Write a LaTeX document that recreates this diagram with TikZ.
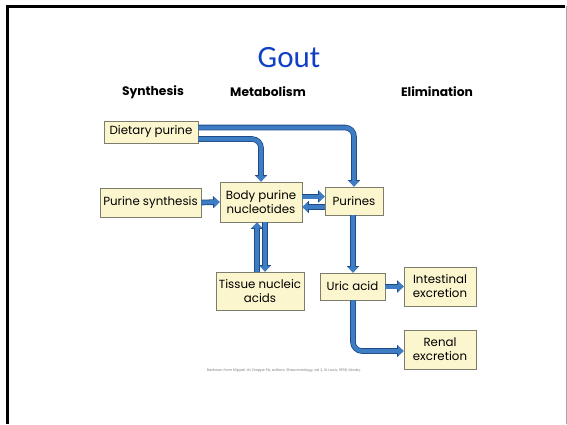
\documentclass[tikz,border=0pt]{standalone}
\usepackage{fontspec}
\setmainfont{Poppins}
\newfontfamily\titlefont{Carlito}
\usetikzlibrary{arrows.meta}

\definecolor{boxfill}{RGB}{252,246,206}
\definecolor{boxline}{RGB}{125,125,110}
\definecolor{flowblue}{RGB}{62,125,195}
\definecolor{flowdark}{RGB}{30,75,135}
\definecolor{titleblue}{RGB}{16,64,196}

\tikzset{
    stage/.style={draw=boxline, fill=boxfill, line width=0.8pt, inner sep=0pt,
        align=center, font=\fontsize{11.8}{14}\selectfont},
    heading/.style={font=\bfseries\fontsize{12.3}{14}\selectfont},
    flow/.style={draw=flowblue, line width=4pt, rounded corners=9pt,
        -{Triangle[length=5.5pt,width=10pt]},
        preaction={draw=flowdark, line width=5.6pt, rounded corners=9pt,
            -{Triangle[length=6.5pt,width=12pt]}}}
}

\begin{document}
\begin{tikzpicture}[x=1pt,y=-1pt]
    \useasboundingbox (0,0) rectangle (567,424);

    % Slide frame
    \draw[black,line width=3pt] (7,424) -- (7,6) -- (565,6);
    \draw[gray!70,line width=0.8pt] (566,6) -- (566,424);

    % Title and column headings
    \node[text=titleblue,font=\titlefont\fontsize{31}{36}\selectfont] (title) at (289,58) {Gout};
    \node[heading] (hsyn) at (153,92) {Synthesis};
    \node[heading] (hmet) at (268,92) {Metabolism};
    \node[heading] (helim) at (437,92) {Elimination};

    % Boxes
    \node[stage,minimum width=94pt,minimum height=22pt] (diet) at (151,132) {Dietary purine};
    \node[stage,minimum width=101pt,minimum height=29pt] (synth) at (150.5,202.5) {Purine synthesis};
    \node[stage,minimum width=82pt,minimum height=40pt] (body) at (261,202) {Body purine\\nucleotides};
    \node[stage,minimum width=58pt,minimum height=28pt] (purines) at (354,201) {Purines};
    \node[stage,minimum width=88pt,minimum height=38pt] (tissue) at (260,291) {Tissue nucleic\\acids};
    \node[stage,minimum width=65pt,minimum height=27pt] (uric) at (352.5,286.5) {Uric acid};
    \node[stage,minimum width=72pt,minimum height=39pt] (intest) at (440,286.5) {Intestinal\\excretion};
    \node[stage,minimum width=72pt,minimum height=39pt] (renal) at (440,349.5) {Renal\\excretion};

    % Flows
    \draw[flow] (diet.east |- 0,127.5) -- (purines.north |- 0,127.5) -- (purines.north);
    \draw[flow] (diet.east |- 0,139) -- (body.north |- 0,139) -- (body.north);
    \draw[flow] (synth.east) -- (body.west);
    \draw[flow] (body.east |- 0,196.5) -- (purines.west |- 0,196.5);
    \draw[flow] (purines.west |- 0,207) -- (body.east |- 0,207);
    \draw[flow] (tissue.north -| 257,0) -- (body.south -| 257,0);
    \draw[flow] (body.south -| 265,0) -- (tissue.north -| 265,0);
    \draw[flow] (purines.south -| 353,0) -- (uric.north -| 353,0);
    \draw[flow] (uric.east) -- (intest.west |- uric.east);
    \draw[flow] (uric.south -| 353,0) -- (353,351) -- (renal.west |- 0,351);

    % Source line
    \node[text=gray,font=\fontsize{3.6}{4}\selectfont] (credit) at (284,371)
        {Redrawn from Klippel JH, Dieppe PA, editors: Rheumatology, ed 2, St Louis, 1998, Mosby.};
\end{tikzpicture}
\end{document}
